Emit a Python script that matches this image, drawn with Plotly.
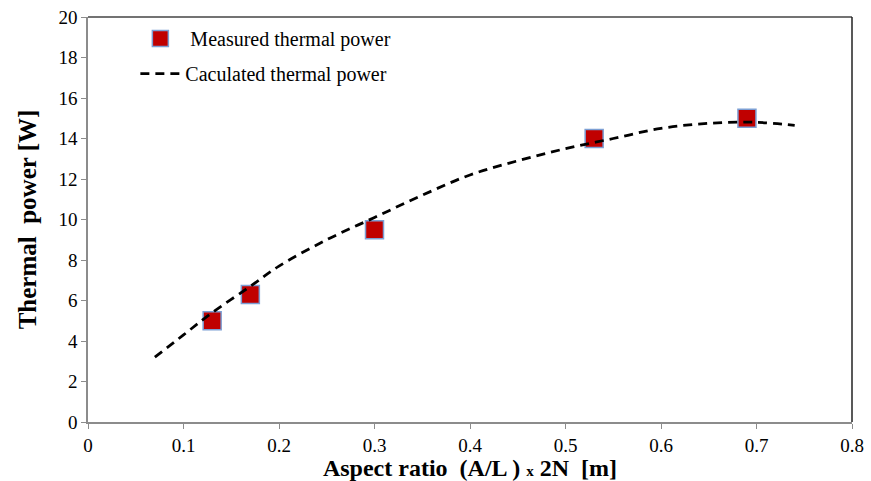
import plotly.graph_objects as go

meas_x = [0.13, 0.17, 0.30, 0.53, 0.69]
meas_y = [5.0, 6.3, 9.5, 14.0, 15.0]

calc_x = [0.07, 0.10, 0.13, 0.17, 0.20, 0.25, 0.30, 0.35, 0.40, 0.45, 0.50, 0.55, 0.60, 0.65, 0.70, 0.74]
calc_y = [3.2, 4.3, 5.4, 6.7, 7.7, 9.0, 10.1, 11.2, 12.2, 12.9, 13.5, 14.0, 14.5, 14.75, 14.8, 14.65]

x_ticks = [0, 0.1, 0.2, 0.3, 0.4, 0.5, 0.6, 0.7, 0.8]
x_ticktext = ["0", "0.1", "0.2", "0.3", "0.4", "0.5", "0.6", "0.7", "0.8"]
y_ticks = list(range(0, 21, 2))

font = "Liberation Serif"

fig = go.Figure()
fig.add_trace(go.Scatter(
    x=meas_x, y=meas_y, mode="markers", name=" Measured thermal power",
    legendgroup="m",
    marker=dict(symbol="square", size=18, color="#C00000",
                line=dict(color="#7C9FD4", width=1.5)),
))
fig.add_trace(go.Scatter(
    x=calc_x, y=calc_y, mode="lines", name="Caculated thermal power",
    legendgroup="c",
    line=dict(color="black", width=2.8, dash="9px,6px", shape="spline"),
))

fig.update_layout(
    width=871, height=481,
    margin=dict(l=88, r=19, t=17, b=59),
    paper_bgcolor="white", plot_bgcolor="white",
    font=dict(family=font, size=19, color="black"),
    showlegend=True,
    legend=dict(x=0.062, y=0.995, xanchor="left", yanchor="top",
                bgcolor="rgba(0,0,0,0)", font=dict(family=font, size=20, color="black"),
                itemwidth=40, tracegroupgap=6),
    xaxis=dict(range=[0, 0.8], tickvals=x_ticks, ticktext=x_ticktext,
               tickfont=dict(family=font, size=19, color="black"),
               showgrid=False, zeroline=False, showline=True, automargin=False,
               linecolor="#8c8c8c", linewidth=1.5, ticks="outside",
               ticklen=5, tickcolor="#8c8c8c",
               title=dict(text="<b>Aspect ratio  (A/L ) <span style='font-size:15px'>x</span> 2N  [m]</b>",
                          font=dict(family=font, size=24, color="black"))),
    yaxis=dict(range=[0, 20], tickvals=y_ticks,
               tickfont=dict(family=font, size=19, color="black"),
               showgrid=False, zeroline=False, showline=True, automargin=False,
               linecolor="#8c8c8c", linewidth=1.5, ticks="outside",
               ticklen=5, tickcolor="#8c8c8c",
               title=dict(text="<b>Thermal  power [W]</b>",
                          font=dict(family=font, size=25, color="black"))),
    shapes=[
        dict(type="line", xref="paper", yref="paper", x0=0, x1=1, y0=1, y1=1,
             line=dict(color="#444", width=1.5)),
        dict(type="line", xref="paper", yref="paper", x0=1, x1=1, y0=0, y1=1,
             line=dict(color="#222", width=1.5)),
    ],
)

fig.write_html("out.html")
